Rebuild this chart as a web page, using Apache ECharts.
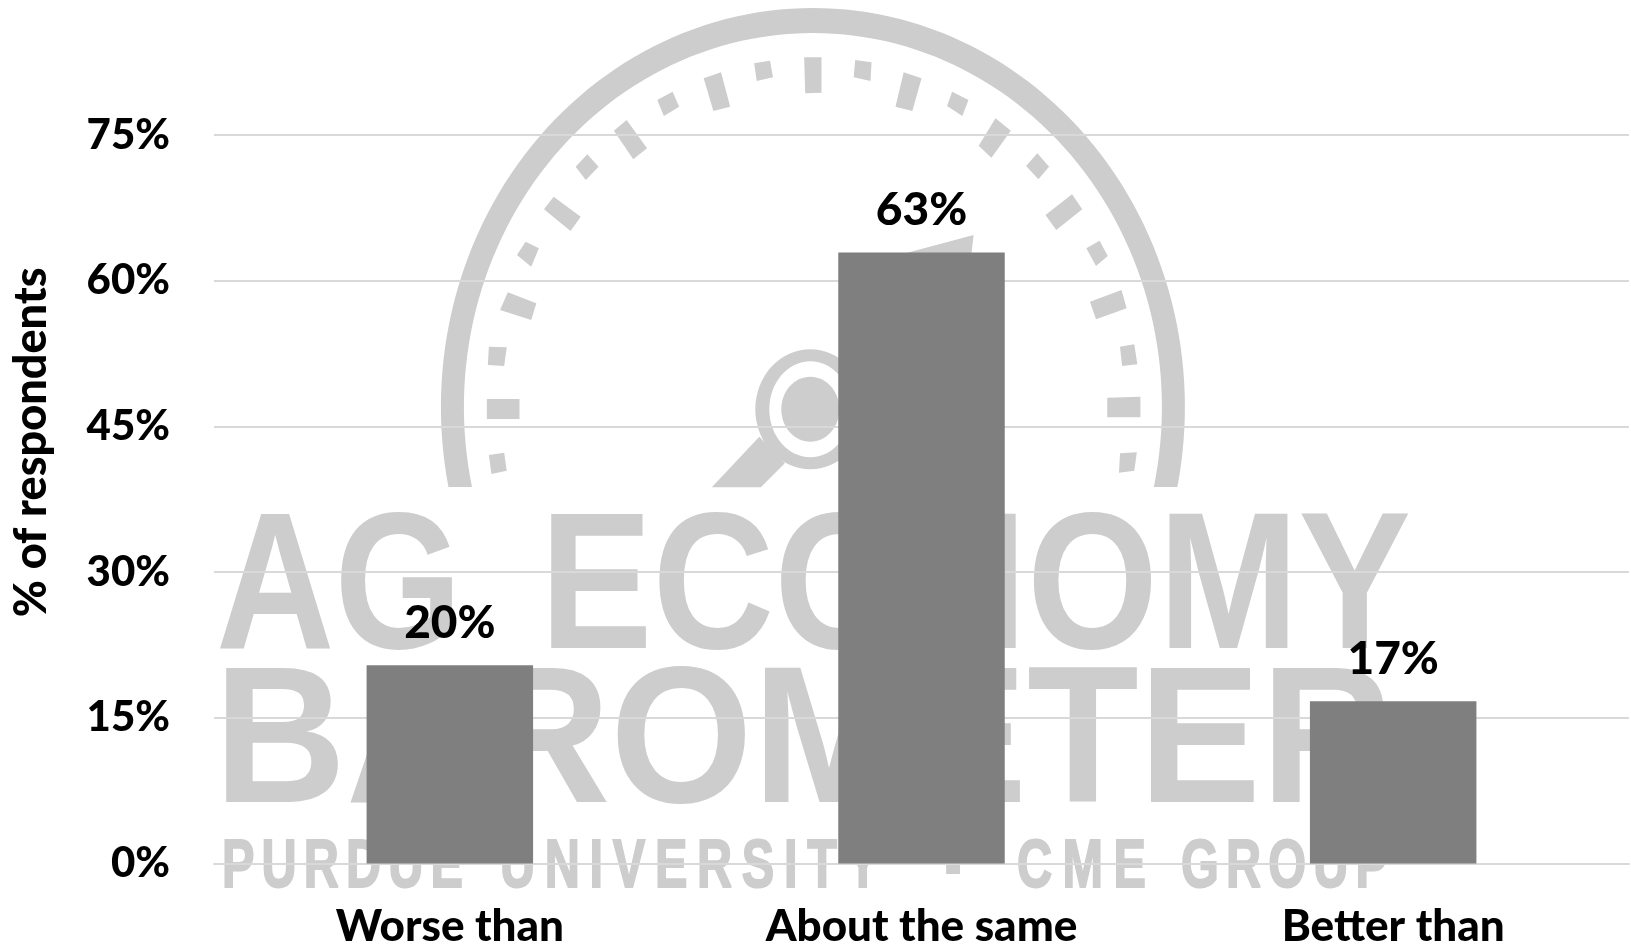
<!DOCTYPE html>
<html><head><meta charset="utf-8">
<style>html,body{margin:0;padding:0;background:#fff;overflow:hidden}#c{width:1631px;height:944px}</style>
<script src="https://cdn.jsdelivr.net/npm/echarts@6/dist/echarts.min.js"></script>
</head><body><div id="c"></div>
<script>
const categories = ['Worse than','About the same','Better than'];
const values = [20.4, 62.9, 16.7];
const axisMax = 75, axisStep = 15;
const yTitle = '% of respondents';

const WM = '#cdcdcd';
const ctx = document.createElement('canvas').getContext('2d');
function widthOf(t, font){ ctx.font = font; return ctx.measureText(t).width; }
const z = -5;
const P = p => [p[0]/1.96+420, p[1]/3];
const ticks = [
 [[753,172],[787,172],[787,278],[755,280]],
 [[655,190],[686,182],[692,232],[660,243]],
 [[556,235],[590,217],[608,320],[575,333]],
 [[465,300],[495,275],[508,320],[478,348]],
 [[380,392],[405,360],[445,445],[418,478]],
 [[305,500],[328,463],[350,500],[325,540]],
 [[243,628],[262,590],[315,650],[295,693]],
 [[190,765],[207,725],[233,745],[218,800]],
 [[157,930],[172,877],[228,910],[218,960]],
 [[135,1040],[170,1042],[165,1098],[133,1095]],
 [[131,1197],[195,1197],[195,1257],[131,1257]],
 [[135,1365],[165,1358],[170,1412],[140,1422]],
 [[853,180],[885,187],[883,243],[850,232]],
 [[948,217],[983,235],[965,333],[932,320]],
 [[1043,275],[1075,300],[1063,348],[1033,318]],
 [[1128,355],[1158,392],[1120,473],[1095,437]],
 [[1210,460],[1233,500],[1212,538],[1188,498]],
 [[1278,583],[1298,628],[1247,690],[1226,645]],
 [[1332,722],[1348,768],[1325,798],[1306,745]],
 [[1375,870],[1385,925],[1325,958],[1313,905]],
 [[1372,1040],[1400,1033],[1406,1093],[1376,1098]],
 [[1347,1193],[1412,1190],[1412,1252],[1347,1252]],
 [[1372,1360],[1405,1357],[1400,1412],[1370,1418]]
];
function ring(){
  const cx=812.9, cy=407, ro=[372,399], ri=[349,374], cut=80, pts=[];
  const a0=Math.PI/2+Math.asin(cut/ro[1]), a1=Math.PI/2+Math.asin(cut/ri[1]);
  const N=120;
  for(let i=0;i<=N;i++){const t=-a0+2*a0*i/N; pts.push([cx+ro[0]*Math.sin(t), cy-ro[1]*Math.cos(t)]);}
  for(let i=N;i>=0;i--){const t=-a1+2*a1*i/N; pts.push([cx+ri[0]*Math.sin(t), cy-ri[1]*Math.cos(t)]);}
  return pts;
}
const CAP = 0.71, DESC = 0.215;
function fitted(text, left, right, capTop, capBottom){
  const size = (capBottom-capTop)/CAP, font = 'bold '+size+'px "Liberation Sans"';
  const w = widthOf(text,font);
  return {type:'text', z, x:left, y:capBottom+size*DESC, scaleX:(right-left)/w, originX:0, originY:0,
    style:{text, font, fill:WM, align:'left', verticalAlign:'bottom', lineHeight:size}};
}
function spaced(text, left, right, capTop, capBottom){
  const size = (capBottom-capTop)/CAP, font = 'bold '+size+'px "Liberation Sans"', sx=0.72;
  const chars=[...text], ws=chars.map(c=>widthOf(c,font)*sx);
  const gap=chars.length>1 ? (right-left-ws.reduce((a,b)=>a+b,0))/(chars.length-1) : 0;
  let x=left; const out=[];
  chars.forEach((c,i)=>{ out.push({type:'text', z, x, y:capBottom+size*DESC, scaleX:sx, originX:0, originY:0,
     style:{text:c,font,fill:WM,stroke:WM,lineWidth:2,align:'left',verticalAlign:'bottom',lineHeight:size}}); x+=ws[i]+gap; });
  return out;
}
const wm = [
  {type:'polygon', z, shape:{points:ring()}, style:{fill:WM}},
  ...ticks.map(t=>({type:'polygon', z, shape:{points:t.map(P)}, style:{fill:WM}})),
  {type:'ellipse', z, shape:{cx:810.3,cy:409.3,rx:55,ry:60}, style:{fill:WM}},
  {type:'ellipse', z, shape:{cx:810.3,cy:409.3,rx:41,ry:48}, style:{fill:'#fff'}},
  {type:'ellipse', z, shape:{cx:810.3,cy:409.3,rx:29,ry:32.5}, style:{fill:WM}},
  {type:'polygon', z, shape:{points:[[572,1462],[668,1462],[715,1390],[665,1310]].map(P)}, style:{fill:WM}},
  {type:'polygon', z, shape:{points:[[955,758],[1085,705],[1078,800],[900,800]].map(P)}, style:{fill:WM}},
  fitted('AG',216,462,512,650),
  fitted('ECONOMY',540,1411,512,650),
  fitted('BAROMETER',214,1393,665,804),
  ...spaced('PURDUE',222,463,840,888),
  ...spaced('UNIVERSITY',500,879,840,888),
  ...spaced('-',945,960,840,888),
  ...spaced('CME',1017,1146,840,888),
  ...spaced('GROUP',1181,1388,840,888)
];

const F = 'Lato';
const chart = echarts.init(document.getElementById('c'), null, {renderer:'canvas'});
chart.setOption({
  animation:false,
  backgroundColor:'#fff',
  graphic:{elements:wm},
  grid:{left:214,right:2,top:135,bottom:80.5,containLabel:false,outerBoundsMode:'none'},
  xAxis:{type:'category',data:categories,
    axisLine:{show:true,lineStyle:{color:'#d9d9d9',width:2}},axisTick:{show:false},
    axisLabel:{color:'#000',fontFamily:F,fontWeight:900,fontSize:44,margin:41,interval:0}},
  yAxis:{type:'value',min:0,max:axisMax,interval:axisStep,
    name:yTitle,nameLocation:'middle',nameGap:160,nameRotate:90,
    nameTextStyle:{color:'#000',fontFamily:F,fontWeight:900,fontSize:45,padding:[0,0,0,114]},
    axisLine:{show:false},axisTick:{show:false},
    splitLine:{lineStyle:{color:'#d9d9d9',width:2}},
    axisLabel:{color:'#000',fontFamily:F,fontWeight:900,fontSize:42,margin:44,formatter:'{value}%'}},
  series:[{type:'bar',data:values,barWidth:'35.3%',
    itemStyle:{color:'#7f7f7f'},
    label:{show:true,position:'top',distance:19,color:'#000',fontFamily:F,fontWeight:900,fontSize:46,
      formatter:p=>Math.round(p.value)+'%'}}]
});
</script></body></html>
